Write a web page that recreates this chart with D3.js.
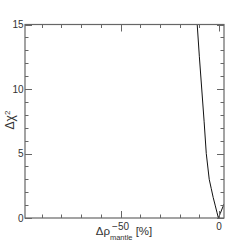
<!DOCTYPE html>
<html>
<head>
<meta charset="utf-8">
<script src="https://cdn.jsdelivr.net/npm/d3@7"></script>
<style>
  body { margin: 0; background: #fff; }
  svg { display: block; font-family: "Liberation Sans", Arial, sans-serif; }
</style>
</head>
<body>
<svg width="249" height="243"></svg>
<script>
const svg = d3.select("svg");

// data
const drho = [-11.1, -10.0, -8.8, -7.6, -6.5, -5.6, -5.0, -4.0, -3.0, -2.0, -1.1, -0.35, 0.6, 1.5, 2.6];
const chi2 = [15, 12.5, 10, 7.5, 5, 3.8, 3.0, 2.3, 1.6, 1.0, 0.45, 0, 0.35, 0.7, 1.1];
const xMajor = [-50, 0];
const xMinor = [-90, -80, -70, -60, -40, -30, -20, -10];
const yMajor = [0, 5, 10, 15];
const yMinor = d3.range(1, 15).filter(d => d % 5 !== 0);

const mLeft = 25, mRight = 224, mTop = 24.5, mBottom = 218;

const x = d3.scaleLinear().domain([-98.5, 2.5]).range([mLeft, mRight]);
const y = d3.scaleLinear().domain([0, 15]).range([mBottom, mTop]);

const axisColor = "#666";
const major = 7, minor = 3.5;

svg.append("clipPath").attr("id", "clip")
  .append("rect").attr("x", mLeft).attr("y", mTop)
  .attr("width", mRight - mLeft).attr("height", mBottom - mTop);

// curve
svg.append("path")
  .datum(drho.map((d, i) => [d, chi2[i]]))
  .attr("clip-path", "url(#clip)")
  .attr("fill", "none")
  .attr("stroke", "#111")
  .attr("stroke-width", 1)
  .attr("d", d3.line().x(d => x(d[0])).y(d => y(d[1])));

// ticks, all sides, pointing inward
const ticks = svg.append("g").attr("stroke", axisColor).attr("stroke-width", 1);
function xTicks(vals, len) {
  vals.forEach(v => {
    const px = Math.round(x(v)) + 0.5;
    ticks.append("line").attr("x1", px).attr("x2", px).attr("y1", mBottom).attr("y2", mBottom - len);
    ticks.append("line").attr("x1", px).attr("x2", px).attr("y1", mTop).attr("y2", mTop + len);
  });
}
function yTicks(vals, len) {
  vals.forEach(v => {
    const py = Math.round(y(v)) + 0.5;
    ticks.append("line").attr("y1", py).attr("y2", py).attr("x1", mLeft).attr("x2", mLeft + len);
    ticks.append("line").attr("y1", py).attr("y2", py).attr("x1", mRight).attr("x2", mRight - len);
  });
}
xTicks(xMajor, major);
xTicks(xMinor, minor);
yTicks(yMajor, major);
yTicks(yMinor, minor);

// frame
svg.append("rect")
  .attr("x", mLeft).attr("y", mTop)
  .attr("width", mRight - mLeft).attr("height", mBottom - mTop)
  .attr("fill", "none").attr("stroke", axisColor).attr("stroke-width", 1.2);

// tick labels
const lab = svg.append("g").attr("fill", "#333").attr("font-size", 10);
xMajor.forEach(v => {
  lab.append("text").attr("x", x(v)).attr("y", 229.5)
    .attr("text-anchor", "middle").text(v < 0 ? "\u2212" + Math.abs(v) : v);
});
yMajor.forEach(v => {
  lab.append("text").attr("x", mLeft - 1.5).attr("y", y(v) + 3.5)
    .attr("text-anchor", "end").text(v);
});

// axis titles
const xt = svg.append("text").attr("fill", "#333").attr("font-size", 11.5)
  .attr("x", 124).attr("y", 235).attr("text-anchor", "middle");
xt.append("tspan").text("\u0394\u03c1");
xt.append("tspan").attr("font-size", 7.5).attr("dy", 5).text("mantle");
xt.append("tspan").attr("dy", -5).text(" [%]");

const yt = svg.append("text").attr("fill", "#333").attr("font-size", 12)
  .attr("transform", "translate(14,120) rotate(-90)").attr("text-anchor", "middle");
yt.append("tspan").text("\u0394\u03c7");
yt.append("tspan").attr("font-size", 8).attr("dy", -4.5).text("2");
</script>
</body>
</html>
